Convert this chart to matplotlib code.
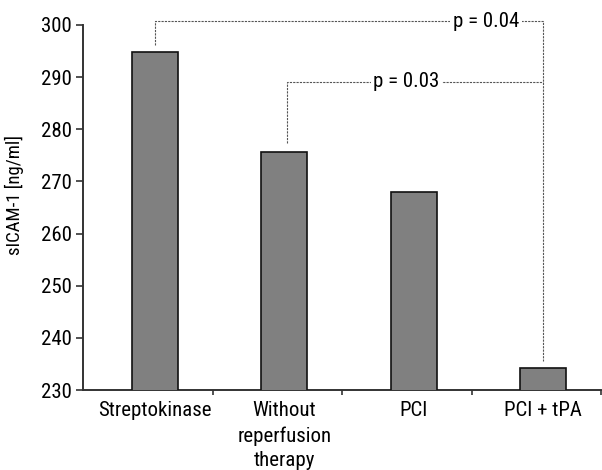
import matplotlib
matplotlib.use("Agg")
import matplotlib.pyplot as plt

# sICAM-1 level by treatment group
groups = ["Streptokinase", "Without\nreperfusion\ntherapy", "PCI", "PCI + tPA"]
sicam = [294.9, 275.7, 268.0, 234.2]
p_labels = ["p = 0.04", "p = 0.03"]
yticks = [230, 240, 250, 260, 270, 280, 290, 300]

plt.rcParams["font.family"] = ["Roboto Condensed", "DejaVu Sans"]

fig = plt.figure(figsize=(6.02, 4.70), dpi=100)
ax = fig.add_axes([83.3 / 602, 1 - 390 / 470, (601 - 83.3) / 602, 365 / 470])

x = list(range(len(groups)))
ax.bar(x, sicam, width=0.355, color="#808080", edgecolor="#111111", linewidth=1.2, zorder=3)

ax.set_ylim(230, 300)
ax.set_xlim(-0.554, 3.446)
ax.set_yticks(yticks)
ax.tick_params(axis="y", direction="out", length=5, width=1.2, pad=3, labelsize=15, color="#333333")

ax.set_xticks(x)
ax.set_xticklabels(groups, fontsize=15, linespacing=1.38)
ax.set_xticks([i - 0.554 for i in range(1, len(groups) + 1)], minor=True)
ax.tick_params(axis="x", which="major", length=0, pad=8)
ax.tick_params(axis="x", which="minor", direction="out", length=3.5, width=1.2, color="#333333")

for side in ["top", "right"]:
    ax.spines[side].set_visible(False)
for side in ["left", "bottom"]:
    ax.spines[side].set_linewidth(1.4)
    ax.spines[side].set_color("#333333")

ax.set_ylabel("sICAM-1 [ng/ml]", fontsize=13.5)
ax.yaxis.set_label_coords(-0.114, 0.533)

# significance brackets
dash = dict(color="#555555", linewidth=0.8, linestyle=(0, (2, 1)), clip_on=False, zorder=2)
right_x = 3.0
ax.plot([0, 0, right_x, right_x], [296.2, 300.75, 300.75, 235.5], **dash)
ax.plot([1.02, 1.02, right_x], [277.3, 289.1, 289.1], **dash)

box = dict(facecolor="white", edgecolor="none", pad=2)
ax.text(2.557, 300.75, p_labels[0], ha="center", va="center", fontsize=15, bbox=box, clip_on=False, zorder=4)
ax.text(1.942, 289.1, p_labels[1], ha="center", va="center", fontsize=15, bbox=box, zorder=4)

fig.savefig("out.png", dpi=100)
